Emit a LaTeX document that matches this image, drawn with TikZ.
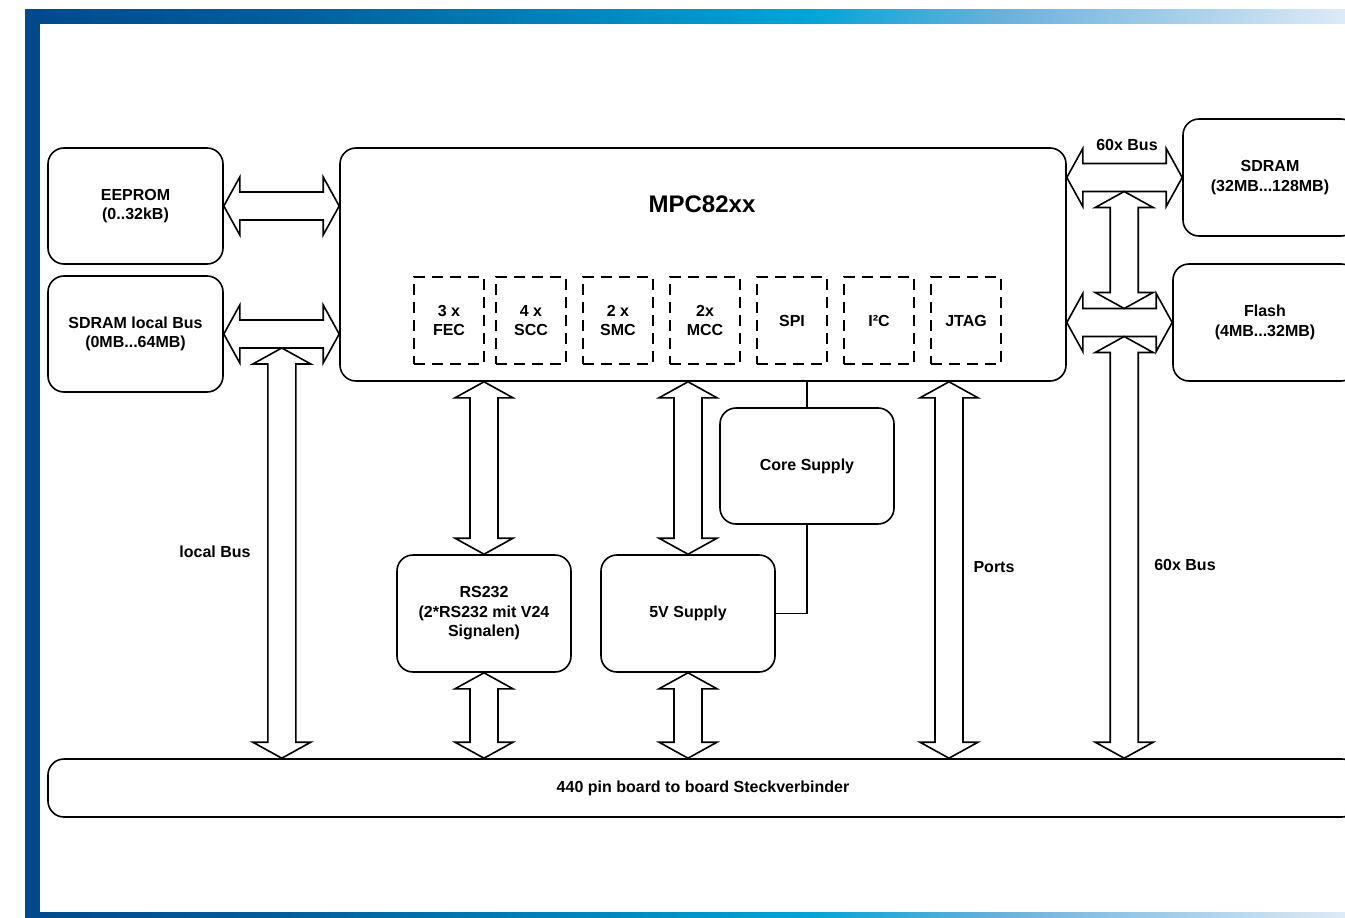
\documentclass[tikz,border=0pt]{standalone}
\usepackage{fontspec}
\setmainfont{Liberation Sans}
\usetikzlibrary{calc}
\usepackage{xcolor}

\definecolor{framedark}{HTML}{00498B}
\definecolor{framedeep}{HTML}{00609C}
\definecolor{framecyan}{HTML}{00A3D6}
\definecolor{framesky}{HTML}{6AB1DB}
\definecolor{framelight}{HTML}{DEEAF6}
\pgfdeclarehorizontalshading{framebar}{100bp}{color(0bp)=(framedark); color(25bp)=(framedark); color(35.4bp)=(framedeep); color(54.5bp)=(framecyan); color(62bp)=(framesky); color(75bp)=(framelight); color(100bp)=(framelight)}

\newcommand{\diagfont}{\bfseries\fontsize{16}{19.5}\selectfont}

% hollow double-headed bus arrows, horizontal and vertical
\newcommand{\hbus}[2]{%
  \draw[bus] let \p1=(#1), \p2=(#2) in
    (\x1,\y1) -- ++(16pt,29pt) -- ++(0,-15pt) -- (\x2-16pt,\y1+14pt) -- ++(0,15pt)
    -- (\x2,\y1) -- ++(-16pt,-29pt) -- ++(0,15pt) -- (\x1+16pt,\y1-14pt) -- ++(0,-15pt) -- cycle;}
\newcommand{\vbus}[2]{%
  \draw[bus] let \p1=(#1), \p2=(#2) in
    (\x1,\y1) -- ++(29pt,-16pt) -- ++(-15pt,0) -- (\x1+14pt,\y2+16pt) -- ++(15pt,0)
    -- (\x1,\y2) -- ++(-29pt,16pt) -- ++(15pt,0) -- (\x1-14pt,\y1-16pt) -- ++(-15pt,0) -- cycle;}

\begin{document}
\begin{tikzpicture}[x=1pt, y=-1pt, node distance=87pt]
    \tikzstyle{block} = [rectangle, draw, line width=1.6pt, rounded corners=16pt, inner sep=0pt, align=center, font=\diagfont]
    \tikzstyle{unit} = [rectangle, draw, line width=1.6pt, dash pattern=on 11pt off 7pt, minimum width=70pt, minimum height=87pt, inner sep=0pt, align=center, font=\diagfont]
    \tikzstyle{lbl} = [font=\diagfont, inner sep=1pt]
    \tikzstyle{bus} = [draw, line width=1.6pt, fill=white, line join=miter]
    \tikzstyle{wire} = [draw, line width=1.3pt]

    \useasboundingbox (0,0) rectangle (1345,918);
    \fill[white] (0,0) rectangle (1345,918);

    % frame
    \shade[shading=framebar] (25,9) rectangle (1345,23);
    \shade[shading=framebar] (25,912) rectangle (1345,918);
    \fill[framedark] (25,9) rectangle (40,918);

    \node[block, minimum width=175pt, minimum height=116pt] (eeprom) at (135.5,206) {EEPROM\\(0..32kB)};
    \node[block, minimum width=175pt, minimum height=116pt] (sdlocal) at (135.5,334) {SDRAM local Bus\\(0MB...64MB)};

    \node[block, minimum width=726pt, minimum height=233pt] (mpc) at (703,264.5) {};
    \node[font=\bfseries\fontsize{24}{28}\selectfont] (mpcname) at (702,204) {MPC82xx};

    \node[unit] (fec) at (449,320.5) {3 x\\FEC};
    \node[unit, right of=fec, xshift=-5pt] (scc) {4 x\\SCC};
    \node[unit, right of=scc] (smc) {2 x\\SMC};
    \node[unit, right of=smc] (mcc) {2x\\MCC};
    \node[unit, right of=mcc] (spi) {SPI};
    \node[unit, right of=spi] (iic) {I²C};
    \node[unit, right of=iic] (jtag) {JTAG};

    \node[block, minimum width=174pt, minimum height=117pt] (sdramr) at (1270,177.5) {SDRAM\\(32MB...128MB)};
    \node[block, minimum width=184pt, minimum height=117pt] (flash) at (1265,322.5) {Flash\\(4MB...32MB)};

    \node[block, minimum width=174pt, minimum height=116pt] (core) at (807,466) {Core Supply};
    \node[block, minimum width=174pt, minimum height=117pt] (rs) at (484,613.5) {RS232\\(2*RS232 mit V24\\Signalen)};
    \node[block, minimum width=174pt, minimum height=117pt] (vfive) at (688,613.5) {5V Supply};

    \node[block, minimum width=1310pt, minimum height=58pt] (conn) at (703,788) {440 pin board to board Steckverbinder};

    \coordinate (lbtop) at ($(sdlocal.east)+(58,14)$);
    \coordinate (porttop) at ($(mpc.south)+(246,0)$);
    \coordinate (bustop) at ($(sdramr.west)+(-58,14)$);
    \coordinate (busmid) at ($(flash.west)+(-48,-14)$);
    \coordinate (busbot) at ($(flash.west)+(-48,14)$);

    \hbus{eeprom.east}{mpc.west |- eeprom.east}
    \hbus{sdlocal.east}{mpc.west |- sdlocal.east}
    \hbus{mpc.east |- sdramr.west}{sdramr.west}
    \hbus{mpc.east |- flash.west}{flash.west}

    \vbus{lbtop}{lbtop |- conn.north}
    \vbus{rs.north |- mpc.south}{rs.north}
    \vbus{rs.south}{rs.south |- conn.north}
    \vbus{vfive.north |- mpc.south}{vfive.north}
    \vbus{vfive.south}{vfive.south |- conn.north}
    \vbus{porttop}{porttop |- conn.north}
    \vbus{bustop}{busmid}
    \vbus{busbot}{busbot |- conn.north}

    \draw[wire] (mpc.south -| core.north) -- (core.north);
    \draw[wire] (core.south) |- (vfive.east);

    \node[lbl] (lbllocal) at (215,552) {local Bus};
    \node[lbl] (lblports) at (994,567) {Ports};
    \node[lbl] (lblbus) at (1185,565) {60x Bus};
    \node[lbl] (lblbustop) at (1127,145) {60x Bus};
\end{tikzpicture}
\end{document}
